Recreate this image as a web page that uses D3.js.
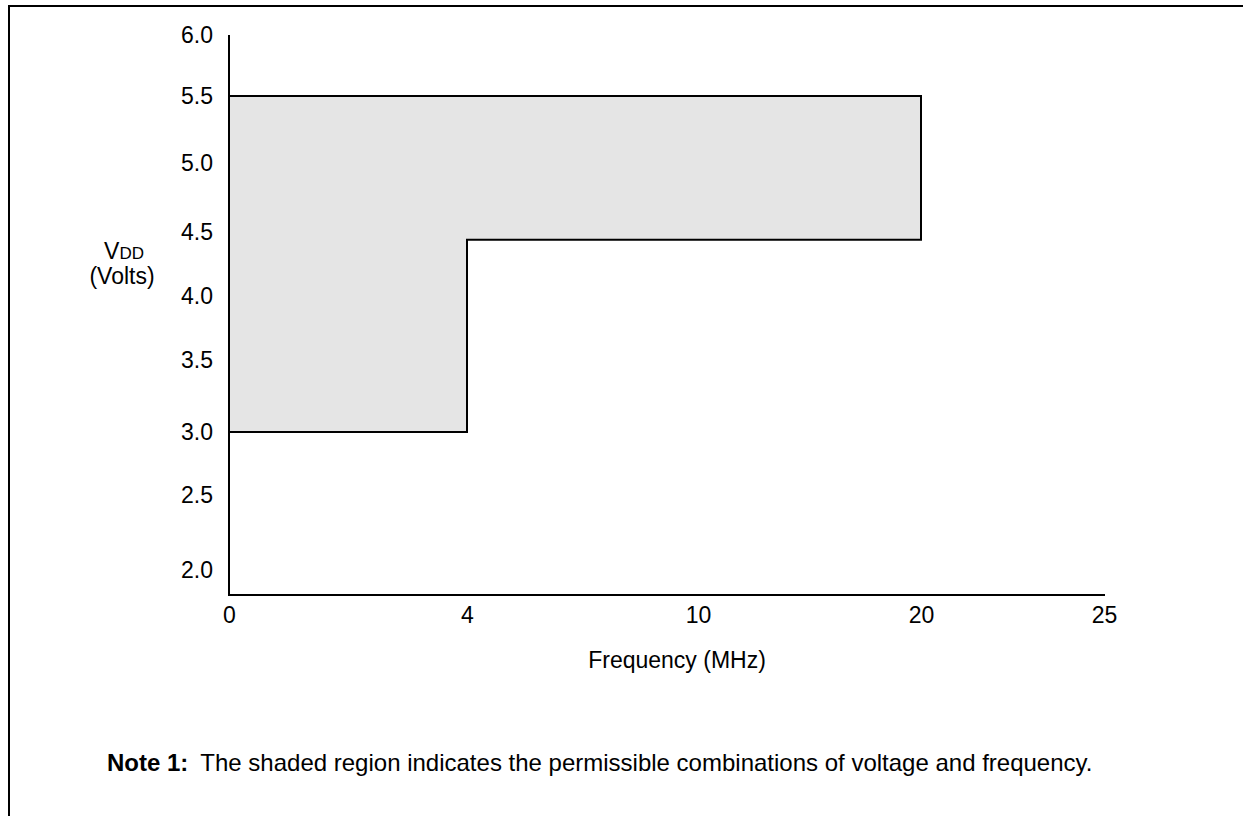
<!DOCTYPE html>
<html>
<head>
<meta charset="utf-8">
<script src="https://cdn.jsdelivr.net/npm/d3@7"></script>
<style>
  html, body { margin: 0; padding: 0; background: #fff; }
  svg { display: block; font-family: "Liberation Sans", Arial, sans-serif; }
</style>
</head>
<body>
<div id="chart"></div>
<script>
/* Operating region: VDD vs frequency */

var freqTicks = [0, 4, 10, 20, 25];
var voltTicks = [2.0, 2.5, 3.0, 3.5, 4.0, 4.5, 5.0, 5.5, 6.0];

// outline of the shaded region as [MHz, Volts]
var regionFreq = [0, 20, 20, 4, 4, 0];
var regionVolt = [5.5, 5.5, 4.44, 4.44, 3.0, 3.0];

var noteLabel = 'Note 1:';
var noteText = 'The shaded region indicates the permissible combinations of voltage and frequency.';

(function drawChart() {
  var W = 1243, H = 816;
  var fs = 23;
  var svg = d3.select('#chart').append('svg')
    .attr('width', W).attr('height', H);

  /* ── scales (axis is not evenly spaced in the original) ── */
  var x = d3.scaleLinear()
    .domain(freqTicks)
    .range([229, 467, 698, 921, 1104]);
  var y = d3.scaleLinear()
    .domain(voltTicks)
    .range([570, 495, 432, 360, 296, 232, 163, 96, 35]);
  var plotBottom = 595;

  /* ── page frame ── */
  svg.append('path')
    .attr('d', 'M9,' + H + 'V6H' + W)
    .attr('fill', 'none').attr('stroke', '#000').attr('stroke-width', 2);

  /* ── shaded region ── */
  var pts = regionFreq.map(function (f, i) { return [x(f), y(regionVolt[i])]; });
  svg.append('path')
    .attr('d', d3.line()(pts) + 'Z')
    .attr('fill', '#e5e5e5')
    .attr('stroke', '#000').attr('stroke-width', 2);

  /* ── axes ── */
  var xAxis = svg.append('g')
    .attr('transform', 'translate(0,' + plotBottom + ')')
    .call(d3.axisBottom(x).tickValues(freqTicks).tickSize(0).tickPadding(12)
      .tickFormat(d3.format('d')));
  var yAxis = svg.append('g')
    .attr('transform', 'translate(' + x(0) + ',0)')
    .call(d3.axisLeft(y).tickValues(voltTicks).tickSize(0).tickPadding(16)
      .tickFormat(d3.format('.1f')));
  [xAxis, yAxis].forEach(function (g) {
    g.select('.domain').remove();
    g.selectAll('text').attr('font-size', fs).attr('fill', '#000')
      .attr('font-family', '"Liberation Sans", Arial, sans-serif');
  });

  svg.append('line')
    .attr('x1', x(0)).attr('y1', y(6.0))
    .attr('x2', x(0)).attr('y2', plotBottom + 1)
    .attr('stroke', '#000').attr('stroke-width', 2);
  svg.append('line')
    .attr('x1', x(0) - 1).attr('y1', plotBottom)
    .attr('x2', x(25) + 1).attr('y2', plotBottom)
    .attr('stroke', '#000').attr('stroke-width', 2);

  /* ── axis titles ── */
  svg.append('text')
    .attr('x', 677).attr('y', 668)
    .attr('text-anchor', 'middle').attr('font-size', fs)
    .text('Frequency (MHz)');

  var vdd = svg.append('text')
    .attr('x', 124).attr('y', 259)
    .attr('text-anchor', 'middle').attr('font-size', fs);
  vdd.append('tspan').text('V');
  vdd.append('tspan').attr('font-size', 17).text('DD');
  svg.append('text')
    .attr('x', 122).attr('y', 284)
    .attr('text-anchor', 'middle').attr('font-size', fs)
    .text('(Volts)');

  /* ── note ── */
  var note = svg.append('text')
    .attr('x', 107).attr('y', 771).attr('font-size', 24);
  note.append('tspan').attr('font-weight', 'bold').text(noteLabel);
  note.append('tspan').attr('dx', 12).text(noteText);
}());
</script>
</body>
</html>
